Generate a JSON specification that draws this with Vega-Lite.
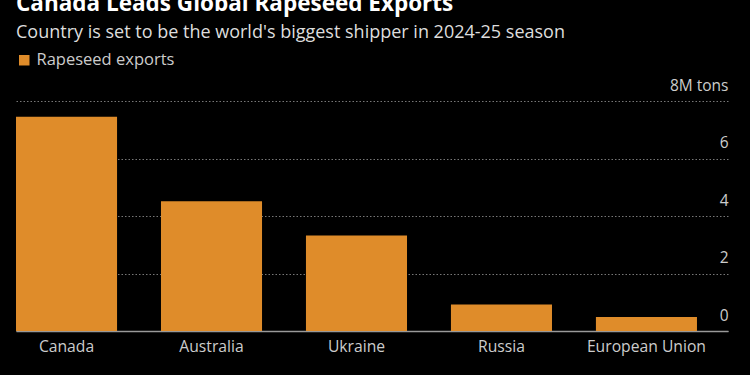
{
  "$schema": "https://vega.github.io/schema/vega-lite/v6.json",
  "autosize": {"type": "none"},
  "width": 712,
  "height": 230,
  "padding": {"left": 16, "top": 101, "right": 22, "bottom": 44},
  "background": "#000000",
  "title": {
    "text": "Canada Leads Global Rapeseed Exports",
    "subtitle": "Country is set to be the world's biggest shipper in 2024-25 season",
    "anchor": "start",
    "frame": "group",
    "font": "Open Sans",
    "fontSize": 22.5,
    "fontWeight": "bold",
    "color": "#ffffff",
    "subtitleFont": "Open Sans",
    "subtitleFontSize": 18,
    "subtitleColor": "#dddddd",
    "subtitlePadding": 9,
    "offset": 10
  },
  "data": {
    "values": [
      {"country": "Canada", "exports": 7.45, "series": "Rapeseed exports"},
      {"country": "Australia", "exports": 4.51, "series": "Rapeseed exports"},
      {"country": "Ukraine", "exports": 3.32, "series": "Rapeseed exports"},
      {"country": "Russia", "exports": 0.92, "series": "Rapeseed exports"},
      {"country": "European Union", "exports": 0.49, "series": "Rapeseed exports"}
    ]
  },
  "mark": {"type": "bar"},
  "encoding": {
    "x": {
      "field": "country",
      "type": "nominal",
      "sort": null,
      "scale": {"paddingInner": 0.303, "paddingOuter": 0.107, "align": 0},
      "axis": {
        "title": null,
        "labelAngle": 0,
        "labelFont": "Open Sans",
        "labelFontSize": 15.7,
        "labelColor": "#cccccc",
        "labelPadding": 8,
        "ticks": false,
        "domainColor": "#999999",
        "domainWidth": 1.5,
        "grid": false
      }
    },
    "y": {
      "field": "exports",
      "type": "quantitative",
      "scale": {"domain": [0, 8]},
      "axis": {
        "title": null,
        "orient": "right",
        "values": [0, 2, 4, 6, 8],
        "labelExpr": "datum.value == 8 ? '8M tons' : datum.label",
        "labelAlign": "right",
        "labelBaseline": "bottom",
        "labelPadding": 0,
        "labelOffset": -8,
        "labelFont": "Open Sans",
        "labelFontSize": 15.5,
        "labelColor": "#cccccc",
        "ticks": false,
        "domain": false,
        "grid": true,
        "gridColor": "#777777",
        "gridDash": [1.5, 2],
        "gridWidth": 1
      }
    },
    "color": {
      "field": "series",
      "type": "nominal",
      "scale": {"range": ["#df8c2a"]},
      "legend": {
        "title": null,
        "orient": "none",
        "legendX": 0,
        "legendY": -49,
        "symbolType": "square",
        "symbolSize": 110,
        "labelFont": "Open Sans",
        "labelFontSize": 16.5,
        "labelColor": "#cccccc"
      }
    }
  },
  "config": {"view": {"stroke": null}}
}
